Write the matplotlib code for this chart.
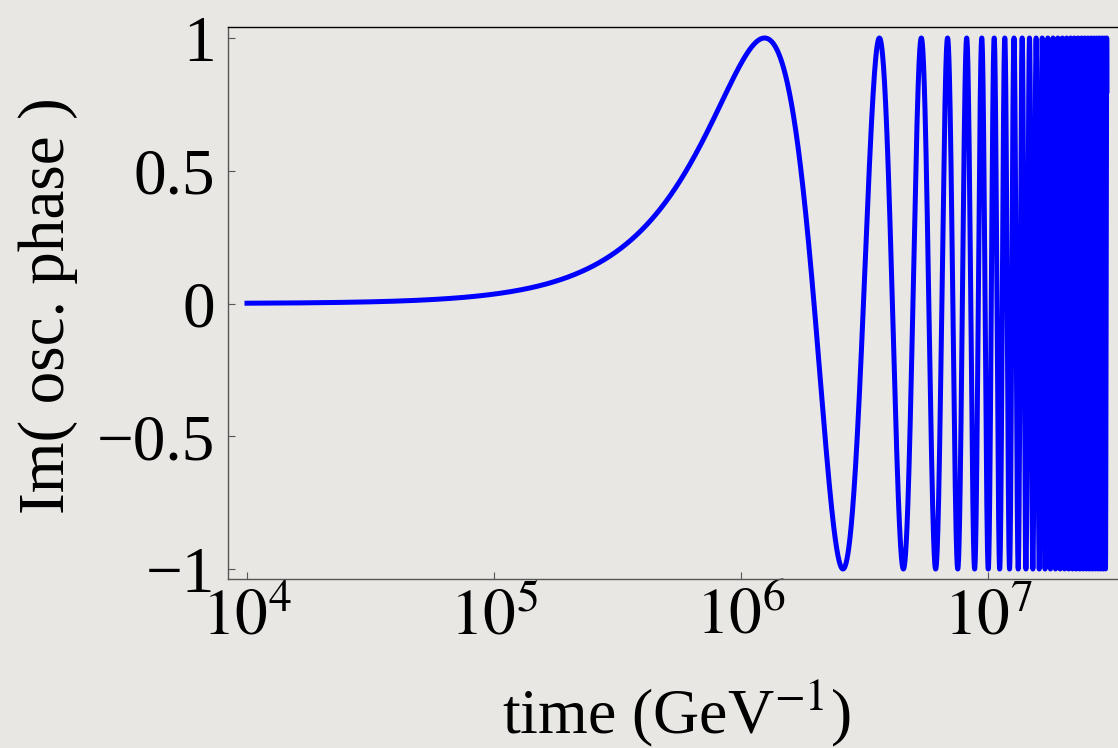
import numpy as np
import matplotlib
matplotlib.use("Agg")
import matplotlib.pyplot as plt
from matplotlib.ticker import FixedLocator, FixedFormatter, NullLocator

plt.rcParams['font.family'] = ['Liberation Serif', 'DejaVu Serif']
plt.rcParams['mathtext.fontset'] = 'stix'

# times (GeV^-1) of the turning points: max, min, max, ...
extrema_t = [1.25e6, 2.58e6, 3.63e6, 4.54e6, 5.39e6, 6.10e6, 6.87e6,
             7.51e6, 8.20e6, 8.81e6, 9.43e6, 1.00e7, 1.07e7]
t_start = 1.0e4
t_end = 3.03e7

y_ticks = [-1, -0.5, 0, 0.5, 1]
y_tick_labels = ['\u22121', '\u22120.5', '0', '0.5', '1']
x_ticks = [1e4, 1e5, 1e6, 1e7]
x_tick_labels = [r'$10^{4}$', r'$10^{5}$', r'$10^{6}$', r'$10^{7}$']

# phase at the k-th turning point is (2k+1)*pi/2 -> fit a power law in t
k = np.arange(len(extrema_t))
phase_at = (2 * k + 1) * np.pi / 2
b, a = np.polyfit(np.log(extrema_t), np.log(phase_at), 1)

t = np.logspace(np.log10(t_start), np.log10(t_end), 40000)
phase = np.exp(a) * t ** b
im_phase = np.sin(phase)

bg = '#e8e7e3'
fig = plt.figure(figsize=(11.18, 7.48), dpi=100, facecolor=bg)
W, H = 1118.0, 748.0
left, right, top, bottom = 228, 1125, 27, 579
ax = fig.add_axes([left / W, 1 - bottom / H, (right - left) / W, (bottom - top) / H])
ax.set_facecolor(bg)

ax.plot(t, im_phase, color='#0000ff', lw=3.6, solid_joinstyle='round')

ax.set_xscale('log')
# 247 px per decade, 10^4 sits 19 px right of the left frame line
dec = 247.0
x0 = 10 ** (4 - (247 - left) / dec)
x1 = 10 ** (4 + (right - 247) / dec)
ax.set_xlim(x0, x1)
ax.set_ylim(-1 - 10 / 265.5, 1 + 11 / 265.5)

ax.xaxis.set_major_locator(FixedLocator(x_ticks))
ax.xaxis.set_major_formatter(FixedFormatter(x_tick_labels))
ax.xaxis.set_minor_locator(NullLocator())
ax.yaxis.set_major_locator(FixedLocator(y_ticks))
ax.yaxis.set_major_formatter(FixedFormatter(y_tick_labels))
ax.yaxis.set_minor_locator(NullLocator())

ax.tick_params(direction='in', length=5, width=0.8, color='#555555',
               labelsize=47, labelcolor='black')
ax.tick_params(axis='y', pad=9)
ax.tick_params(axis='x', pad=7)

ax.spines['left'].set_color('#555555')
ax.spines['bottom'].set_color('#555555')
ax.spines['top'].set_color('black')
ax.spines['right'].set_visible(False)
for s in ax.spines.values():
    s.set_linewidth(1.0)

fig.text(676 / W, 1 - 733 / H, r'time (GeV$^{-1}$)', fontsize=46,
         ha='center', va='baseline')
fig.text(48 / W, 1 - 306 / H, 'Im( osc. phase )', fontsize=47,
         rotation=90, ha='center', va='center')

fig.savefig('out.png', dpi=100, facecolor=bg)
